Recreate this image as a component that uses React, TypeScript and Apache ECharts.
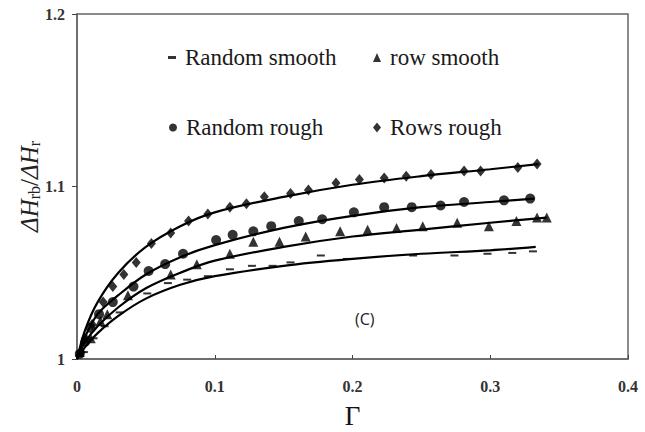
import React, { useEffect, useRef } from "react";
import * as echarts from "echarts";

// ---- Data ----
// Random smooth (dash markers)
const randomSmoothX = [0.002, 0.005, 0.012, 0.020, 0.031, 0.051, 0.066, 0.080, 0.095, 0.111, 0.127, 0.142, 0.155, 0.177, 0.196, 0.244, 0.274, 0.298, 0.316, 0.331];
const randomSmoothY = [1.002, 1.004, 1.012, 1.019, 1.027, 1.038, 1.044, 1.046, 1.048, 1.052, 1.054, 1.054, 1.056, 1.060, 1.058, 1.060, 1.060, 1.061, 1.0615, 1.0624];
// row smooth (triangles)
const rowSmoothX = [0.002, 0.010, 0.017, 0.022, 0.037, 0.068, 0.087, 0.111, 0.128, 0.147, 0.166, 0.191, 0.211, 0.232, 0.251, 0.276, 0.299, 0.319, 0.334, 0.341];
const rowSmoothY = [1.004, 1.012, 1.022, 1.026, 1.037, 1.049, 1.055, 1.061, 1.068, 1.068, 1.071, 1.074, 1.075, 1.076, 1.077, 1.079, 1.077, 1.080, 1.082, 1.082];
// Random rough (circles)
const randomRoughX = [0.002, 0.006, 0.010, 0.016, 0.026, 0.041, 0.052, 0.064, 0.077, 0.101, 0.113, 0.128, 0.141, 0.161, 0.178, 0.201, 0.223, 0.243, 0.264, 0.281, 0.310, 0.329];
const randomRoughY = [1.003, 1.010, 1.018, 1.026, 1.033, 1.042, 1.051, 1.055, 1.061, 1.069, 1.072, 1.074, 1.077, 1.080, 1.081, 1.085, 1.088, 1.088, 1.089, 1.091, 1.092, 1.093];
// Rows rough (diamonds)
const rowsRoughX = [0.003, 0.006, 0.011, 0.019, 0.026, 0.034, 0.043, 0.054, 0.068, 0.081, 0.095, 0.111, 0.123, 0.136, 0.155, 0.168, 0.188, 0.205, 0.223, 0.239, 0.257, 0.281, 0.293, 0.320, 0.334];
const rowsRoughY = [1.004, 1.012, 1.020, 1.033, 1.042, 1.049, 1.056, 1.067, 1.073, 1.080, 1.084, 1.088, 1.090, 1.094, 1.096, 1.098, 1.102, 1.104, 1.105, 1.106, 1.107, 1.109, 1.109, 1.111, 1.113];

// Fitted curves
const fitRowsRoughX = [0, 0.006, 0.015, 0.03, 0.05, 0.075, 0.1, 0.15, 0.2, 0.25, 0.3, 0.335];
const fitRowsRoughY = [1.0, 1.017, 1.033, 1.050, 1.065, 1.077, 1.085, 1.094, 1.101, 1.106, 1.110, 1.113];
const fitRandomRoughX = [0, 0.006, 0.015, 0.03, 0.05, 0.075, 0.1, 0.15, 0.2, 0.25, 0.3, 0.332];
const fitRandomRoughY = [1.0, 1.013, 1.026, 1.037, 1.049, 1.059, 1.066, 1.076, 1.083, 1.088, 1.091, 1.093];
const fitRowSmoothX = [0, 0.006, 0.015, 0.03, 0.05, 0.075, 0.1, 0.15, 0.2, 0.25, 0.3, 0.341];
const fitRowSmoothY = [1.0, 1.010, 1.019, 1.030, 1.041, 1.050, 1.057, 1.065, 1.071, 1.075, 1.079, 1.082];
const fitRandomSmoothX = [0, 0.006, 0.015, 0.03, 0.05, 0.075, 0.1, 0.15, 0.2, 0.25, 0.3, 0.333];
const fitRandomSmoothY = [1.0, 1.007, 1.015, 1.025, 1.035, 1.043, 1.048, 1.054, 1.058, 1.061, 1.063, 1.065];

const xTicks = [0, 0.1, 0.2, 0.3, 0.4];
const yTicks = [1, 1.1, 1.2];
const panelLabel = "(C)";

const zip = (xs: number[], ys: number[]) => xs.map((x, i) => [x, ys[i]]);

const SERIF = "'Liberation Serif', 'Times New Roman', serif";

export default function App() {
  const ref = useRef<HTMLDivElement>(null);
  useEffect(() => {
    if (!ref.current) return;
    const chart = echarts.init(ref.current, null, { renderer: "svg" });
    const lineStyle = { color: "#000", width: 2.2 };
    const fitSeries = (name: string, xs: number[], ys: number[]) => ({
      name,
      type: "line",
      data: zip(xs, ys),
      showSymbol: false,
      symbol: "none",
      smooth: 0.35,
      lineStyle,
      z: 2,
      silent: true,
    });
    const legendText = { fontFamily: SERIF, fontSize: 23, color: "#1a1a1a", padding: [0, 0, 0, 4] };
    chart.setOption({
      animation: false,
      backgroundColor: "#fff",
      grid: {
        left: 77, right: 17, top: 14, bottom: 73,
        outerBoundsMode: "none",
        containLabel: false,
        show: true, borderColor: "#666", borderWidth: 1.5, backgroundColor: "transparent",
      },
      legend: [
        { data: [{ name: "Random smooth", icon: "rect" }], left: 168, top: 46, itemWidth: 8, itemHeight: 3, padding: 0, textStyle: legendText, selectedMode: false },
        { data: [{ name: "row smooth", icon: "triangle" }], left: 373, top: 46, itemWidth: 8, itemHeight: 9, padding: 0, textStyle: legendText, selectedMode: false },
        { data: [{ name: "Random rough", icon: "circle" }], left: 169, top: 116, itemWidth: 8, itemHeight: 8, padding: 0, textStyle: legendText, selectedMode: false },
        { data: [{ name: "Rows rough", icon: "diamond" }], left: 373, top: 116, itemWidth: 8, itemHeight: 10, padding: 0, textStyle: legendText, selectedMode: false },
      ],
      xAxis: {
        type: "value", min: xTicks[0], max: xTicks[xTicks.length - 1], interval: 0.1,
        name: "Γ", nameLocation: "middle", nameGap: 45, nameMoveOverlap: false,
        nameTextStyle: { fontFamily: SERIF, fontSize: 27, lineHeight: 24, color: "#111" },
        axisLine: { show: true, lineStyle: { color: "#666", width: 1.5 } },
        axisTick: { show: true, inside: true, length: 4, lineStyle: { color: "#444" } },
        axisLabel: { fontFamily: SERIF, fontSize: 16, fontWeight: "bold", color: "#333", margin: 19 },
        splitLine: { show: false },
      },
      yAxis: {
        type: "value", min: yTicks[0], max: yTicks[yTicks.length - 1], interval: 0.1,
        name: "{i|ΔH}{s|rb}{n|/}{i|ΔH}{s|r}", nameLocation: "middle", nameGap: 35, nameRotate: 90, nameMoveOverlap: false,
        nameTextStyle: {
          fontFamily: SERIF, color: "#222",
          rich: {
            i: { fontFamily: SERIF, fontSize: 25, fontStyle: "italic", color: "#222" },
            s: { fontFamily: SERIF, fontSize: 16, color: "#222", verticalAlign: "bottom", padding: [9, 0, 0, 0] },
            n: { fontFamily: SERIF, fontSize: 25, color: "#222" },
          },
        },
        axisLine: { show: true, lineStyle: { color: "#666", width: 1.5 } },
        axisTick: { show: true, inside: false, length: 5, lineStyle: { color: "#444" } },
        axisLabel: { fontFamily: SERIF, fontSize: 16, fontWeight: "bold", color: "#333", margin: 12 },
        splitLine: { show: false },
      },
      graphic: [
        { type: "text", left: 355, top: 311, style: { text: panelLabel, fontFamily: "'Open Sans', 'Liberation Sans', sans-serif", fontSize: 16, fill: "#222" } },
      ],
      series: [
        fitSeries("fitRandomSmooth", fitRandomSmoothX, fitRandomSmoothY),
        fitSeries("fitRowSmooth", fitRowSmoothX, fitRowSmoothY),
        fitSeries("fitRandomRough", fitRandomRoughX, fitRandomRoughY),
        fitSeries("fitRowsRough", fitRowsRoughX, fitRowsRoughY),
        { name: "Random smooth", type: "scatter", data: zip(randomSmoothX, randomSmoothY), symbol: "rect", symbolSize: [8, 2], itemStyle: { color: "#000" }, z: 3 },
        { name: "row smooth", type: "scatter", data: zip(rowSmoothX, rowSmoothY), symbol: "triangle", symbolSize: [10, 10], itemStyle: { color: "#000" }, z: 3 },
        { name: "Random rough", type: "scatter", data: zip(randomRoughX, randomRoughY), symbol: "circle", symbolSize: 10, itemStyle: { color: "#000" }, z: 3 },
        { name: "Rows rough", type: "scatter", data: zip(rowsRoughX, rowsRoughY), symbol: "diamond", symbolSize: [9, 11], itemStyle: { color: "#000" }, z: 3 },
      ],
    });
    return () => chart.dispose();
  }, []);
  return <div ref={ref} style={{ width: 645, height: 432, position: "absolute", left: 0, top: 0 }} />;
}
